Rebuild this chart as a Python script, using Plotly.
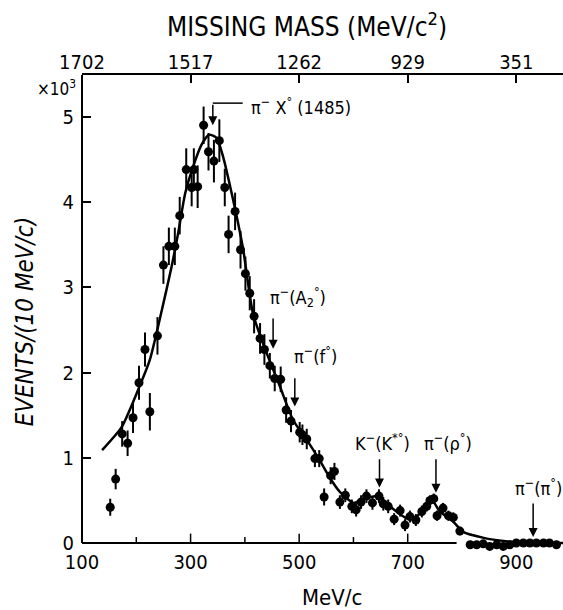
import plotly.graph_objects as go

# Measured spectrum: momentum (MeV/c), events per 10 MeV/c (x10^3), errors (x10^3)
momentum = [152, 162, 174, 184, 194, 205, 216, 225, 239, 250, 260, 271, 280,
            292, 302, 306, 313, 324, 333, 343, 353, 363, 370, 382, 392, 401,
            409, 417, 428, 436, 446, 455, 466, 476, 485, 501, 506, 514, 529,
            537, 546, 558, 565, 575, 585, 597, 605, 614, 624, 635, 647, 655,
            664, 675, 686, 695, 704, 715, 726, 735, 741, 748, 754, 765, 775,
            784, 796, 815, 827, 839, 851, 864, 876, 888, 900, 913, 925, 937,
            950, 961, 974]
events = [0.42, 0.75, 1.28, 1.17, 1.47, 1.88, 2.27, 1.54, 2.43, 3.26, 3.48, 3.48, 3.84,
          4.38, 4.17, 4.38, 4.18, 4.90, 4.59, 4.48, 4.72, 4.17, 3.62, 3.89, 3.44, 3.16,
          2.93, 2.66, 2.40, 2.27, 2.08, 1.93, 1.92, 1.56, 1.43, 1.30, 1.27, 1.22, 0.99,
          0.99, 0.54, 0.79, 0.84, 0.48, 0.56, 0.43, 0.39, 0.48, 0.55, 0.47, 0.55, 0.46,
          0.43, 0.28, 0.38, 0.21, 0.31, 0.27, 0.37, 0.43, 0.50, 0.52, 0.32, 0.41, 0.32,
          0.30, 0.14, -0.02, -0.02, -0.01, -0.04, -0.02, -0.04, -0.02, 0.00, 0.00, 0.00, 0.00,
          0.00, 0.00, -0.02]
errors = [0.10, 0.12, 0.15, 0.15, 0.18, 0.20, 0.20, 0.22, 0.22, 0.22, 0.22, 0.22, 0.22,
          0.25, 0.22, 0.25, 0.25, 0.22, 0.22, 0.25, 0.25, 0.22, 0.22, 0.22, 0.22, 0.20,
          0.20, 0.20, 0.18, 0.18, 0.15, 0.15, 0.15, 0.15, 0.13, 0.12, 0.12, 0.12, 0.10,
          0.10, 0.10, 0.10, 0.10, 0.08, 0.08, 0.08, 0.08, 0.08, 0.08, 0.08, 0.08, 0.08,
          0.08, 0.07, 0.07, 0.07, 0.07, 0.07, 0.07, 0.06, 0.06, 0.06, 0.06, 0.06, 0.06,
          0.06, 0.05, 0.03, 0.03, 0.03, 0.03, 0.03, 0.03, 0.03, 0.03, 0.03, 0.03, 0.03,
          0.03, 0.03, 0.03]

# Fitted curve
fit_p = [137, 173, 201, 225, 247, 265, 277, 290, 305, 320, 334, 348, 360, 373,
         385, 397, 415, 440, 465, 489, 514, 538, 557, 575, 600, 620, 645, 667,
         698, 716, 730, 745, 759, 784, 802, 840, 880, 920, 986]
fit_events = [1.09, 1.36, 1.76, 2.15, 2.73, 3.24, 3.63, 4.10, 4.42, 4.67, 4.79, 4.75, 4.53, 4.18,
              3.83, 3.44, 2.69, 2.23, 1.83, 1.44, 1.21, 0.97, 0.76, 0.60, 0.47, 0.52, 0.55, 0.43,
              0.29, 0.31, 0.40, 0.50, 0.37, 0.25, 0.13, 0.06, 0.02, 0.00, 0.00]

# Axis labelling
bottom_tickvals = [100, 300, 500, 700, 900]
minor_tickvals = [200, 400, 600]
top_ticktext = ["1702", "1517", "1262", "929", "351"]
y_tickvals = [0, 1, 2, 3, 4, 5]
Y_MIN, Y_MAX = -0.082, 5.49

# Resonance markers: (label, label x, label y, arrow x, arrow top, arrow tip)
markers = [
    ("π<sup>−</sup>(A<sub>2</sub><sup>°</sup>)", 443, 2.89, 452, 2.65, 2.28),
    ("π<sup>−</sup>(f<sup>°</sup>)", 487, 2.21, 492, 1.95, 1.60),
    ("K<sup>−</sup>(K<sup>*°</sup>)", 599, 1.18, 648, 1.00, 0.65),
    ("π<sup>−</sup>(ρ<sup>°</sup>)", 726, 1.18, 752, 1.00, 0.59),
    ("π<sup>−</sup>(π<sup>°</sup>)", 894, 0.66, 931, 0.48, 0.07),
]

FONT = "Liberation Sans Narrow, DejaVu Sans Condensed, Roboto Condensed, sans-serif"

fig = go.Figure()

fig.add_trace(go.Scatter(
    x=fit_p, y=fit_events, mode="lines",
    line=dict(color="black", width=2.5, shape="spline", smoothing=0.6),
    hoverinfo="skip", showlegend=False,
))

fig.add_trace(go.Scatter(
    x=momentum, y=events, mode="markers",
    marker=dict(color="black", size=9),
    error_y=dict(type="data", array=errors, color="black", thickness=2, width=0),
    cliponaxis=False, showlegend=False,
))

# Invisible trace so the missing-mass axis is drawn
fig.add_trace(go.Scatter(x=[100], y=[0], xaxis="x2", mode="markers",
                         marker=dict(opacity=0), hoverinfo="skip", showlegend=False))

annotations = []
for text, lx, ly, axp, top, tip in markers:
    annotations.append(dict(x=lx, y=ly, xref="x", yref="y", text=text, showarrow=False,
                            xanchor="left", yanchor="middle",
                            font=dict(family=FONT, size=18, color="black")))
    annotations.append(dict(x=axp, y=tip, ax=axp, ay=top, xref="x", yref="y",
                            axref="x", ayref="y", text="", showarrow=True,
                            arrowhead=2, arrowsize=1.2, arrowwidth=1.5, arrowcolor="black"))

# Main peak label with elbow arrow
annotations.append(dict(x=408, y=5.13, xref="x", yref="y",
                        text="π<sup>−</sup> X<sup>°</sup> (1485)", showarrow=False,
                        xanchor="left", yanchor="middle",
                        font=dict(family=FONT, size=18, color="black")))
annotations.append(dict(x=341, y=4.90, ax=341, ay=5.16, xref="x", yref="y",
                        axref="x", ayref="y", text="", showarrow=True,
                        arrowhead=2, arrowsize=1.2, arrowwidth=1.5, arrowcolor="black"))

# Axis titles
annotations.append(dict(x=0.468, y=1.105, xref="paper", yref="paper",
                        text="MISSING MASS (MeV/c<sup>2</sup>)", showarrow=False,
                        xanchor="center", yanchor="middle",
                        font=dict(family=FONT, size=26, color="black")))
annotations.append(dict(x=0.52, y=-0.099, xref="paper", yref="paper",
                        text="MeV/c", showarrow=False, xanchor="center", yanchor="middle",
                        font=dict(family=FONT, size=22, color="black")))
annotations.append(dict(x=-0.118, y=0.48, xref="paper", yref="paper",
                        text="<i>EVENTS/(10 MeV/c)</i>", showarrow=False, textangle=-90,
                        xanchor="center", yanchor="middle",
                        font=dict(family=FONT, size=24, color="black")))
annotations.append(dict(x=-0.008, y=0.973, xref="paper", yref="paper",
                        text="×10<sup>3</sup>", showarrow=False, xanchor="right", yanchor="middle",
                        font=dict(family=FONT, size=17, color="black")))

shapes = [
    # bottom axis line (momentum scale)
    dict(type="line", xref="x", yref="y", x0=100, x1=790, y0=0, y1=0,
         line=dict(color="black", width=2)),
    # left axis line, from zero up to the top axis
    dict(type="line", xref="paper", yref="y", x0=0, x1=0, y0=0, y1=Y_MAX,
         line=dict(color="black", width=2)),
    # elbow of the main peak marker
    dict(type="line", xref="x", yref="y", x0=341, x1=396, y0=5.16, y1=5.16,
         line=dict(color="black", width=1.5)),
]
# Momentum ticks rising from the zero line (long at labelled values, short between)
for v in bottom_tickvals[:-1]:
    shapes.append(dict(type="line", xref="x", yref="y", x0=v, x1=v, y0=0, y1=0.11,
                       line=dict(color="black", width=1.5)))
for v in minor_tickvals:
    shapes.append(dict(type="line", xref="x", yref="y", x0=v, x1=v, y0=0, y1=0.07,
                       line=dict(color="black", width=1.5)))

fig.update_layout(
    width=563, height=610,
    margin=dict(l=82, r=0, t=75, b=60),
    plot_bgcolor="white", paper_bgcolor="white",
    font=dict(family=FONT, color="black"),
    showlegend=False,
    xaxis=dict(range=[100, 986], showline=False, showgrid=False, zeroline=False,
               tickvals=bottom_tickvals, ticks="", tickfont=dict(size=20, family=FONT),
               ticklabelstandoff=-2),
    xaxis2=dict(range=[100, 986], overlaying="x", side="top", showline=True,
                linecolor="black", linewidth=2, showgrid=False, zeroline=False,
                tickvals=bottom_tickvals, ticktext=top_ticktext, ticks="inside",
                ticklen=8, tickwidth=1.5, tickcolor="black",
                tickfont=dict(size=20, family=FONT), ticklabelstandoff=-4),
    yaxis=dict(range=[Y_MIN, Y_MAX], showline=False, showgrid=False, zeroline=False,
               tickvals=y_tickvals, ticks="inside", ticklen=9, tickwidth=1.5,
               tickcolor="black", tickfont=dict(size=20, family=FONT),
               ticklabelstandoff=7),
    annotations=annotations,
    shapes=shapes,
)

fig.write_html("out.html")
